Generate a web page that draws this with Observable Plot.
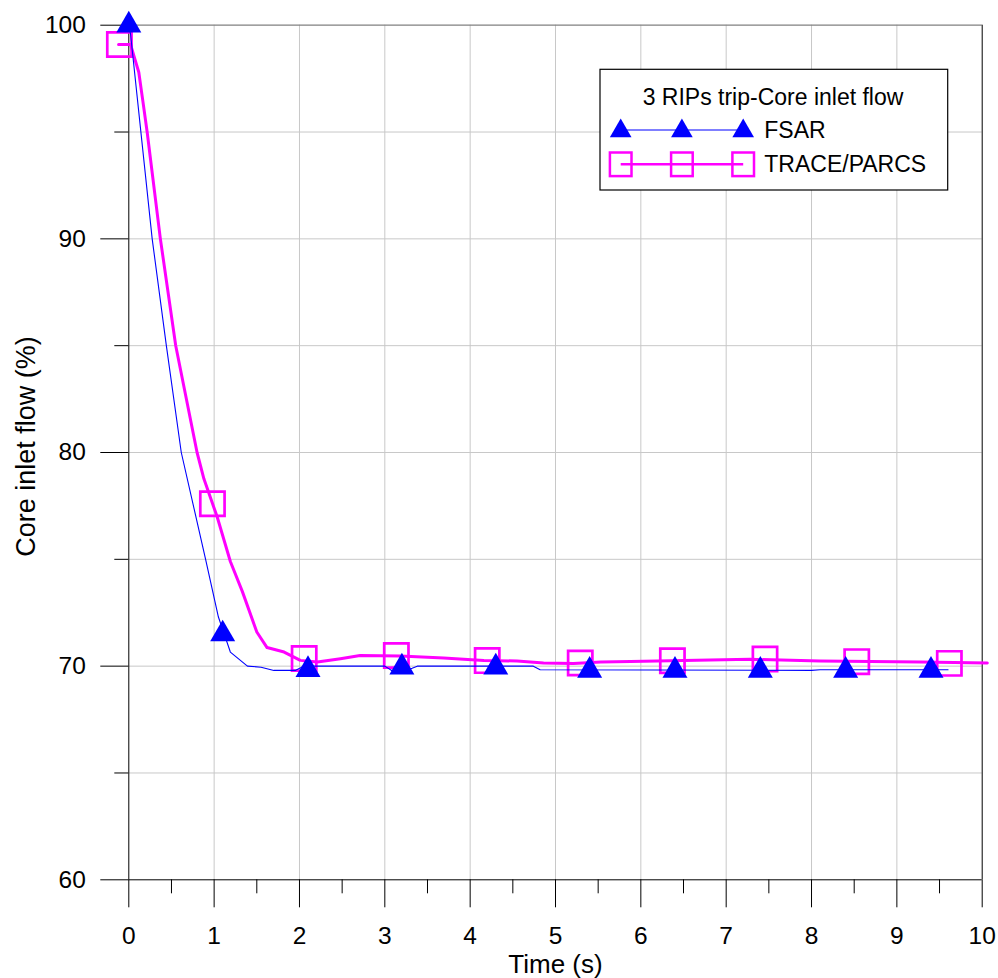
<!DOCTYPE html>
<html><head><meta charset="utf-8">
<script src="https://cdn.jsdelivr.net/npm/d3@7"></script>
<script src="https://cdn.jsdelivr.net/npm/@observablehq/plot@0.6"></script>
<style>
html,body{margin:0;padding:0;background:#fff;overflow:hidden}
#chart svg{display:block}
</style>
</head><body><div id="chart"></div>
<script>
// ---- data ----
const fsarT = [0, 0.02, 0.274, 0.44, 0.615, 0.90, 1.05, 1.19, 1.39, 1.55, 1.70, 1.95, 2.05, 3.0, 3.08, 3.25, 3.32, 3.38, 4.74, 4.82, 8.0, 8.1, 9.6];
const fsarV = [100, 99.6, 90, 85, 80, 75, 72.3, 70.66, 70.0, 69.95, 69.8, 69.8, 70.0, 70.0, 69.8, 69.8, 69.9, 70.0, 70.0, 69.83, 69.8, 69.83, 69.83];
const traceT = [-0.12, 0.02, 0.117, 0.164, 0.215, 0.37, 0.55, 0.80, 0.88, 1.036, 1.19, 1.33, 1.50, 1.62, 1.82, 2.01, 2.21, 2.48, 2.71, 3.18, 3.69, 4.16, 4.55, 4.86, 5.21, 5.53, 5.88, 7.28, 8.1, 9.28, 10.06];
const traceV = [99.1, 99.1, 97.8, 96.47, 95, 90, 85, 80, 78.77, 76.98, 74.9, 73.5, 71.6, 70.87, 70.66, 70.27, 70.19, 70.35, 70.5, 70.47, 70.38, 70.27, 70.24, 70.15, 70.12, 70.19, 70.22, 70.32, 70.24, 70.19, 70.15];
const fsarMarkT = [0, 1.1, 2.1, 3.2, 4.3, 5.4, 6.4, 7.4, 8.4, 9.4];
const fsarMarkV = [100, 71.5, 69.83, 69.95, 69.95, 69.8, 69.8, 69.8, 69.8, 69.8];
const traceMarkT = [-0.11, 0.98, 2.055, 3.135, 4.2, 5.29, 6.37, 7.455, 8.53, 9.615];
const traceMarkV = [99.1, 77.6, 70.36, 70.5, 70.26, 70.15, 70.25, 70.33, 70.21, 70.13];
const xMajor = [0,1,2,3,4,5,6,7,8,9,10];
const xMinor = [0.5,1.5,2.5,3.5,4.5,5.5,6.5,7.5,8.5,9.5];
const yMajor = [60,70,80,90,100];
const yMinor = [65,75,85,95];
const xGrid = [1,2,3,4,5,6,7,8,9];
const yGrid = [65,70,75,80,85,90,95];
const seriesNames = ["FSAR", "TRACE/PARCS"];
const legendTitle = "3 RIPs trip-Core inlet flow";
const xTitle = "Time (s)";
const yTitle = "Core inlet flow (%)";

const fsar = fsarT.map((t,i)=>({t, v:fsarV[i]}));
const trace = traceT.map((t,i)=>({t, v:traceV[i]}));
const fsarMarks = fsarMarkT.map((t,i)=>({t, v:fsarMarkV[i]}));
const traceMarks = traceMarkT.map((t,i)=>({t, v:traceMarkV[i]}));

const FONT = "'Liberation Sans', Arial, sans-serif";
const BLUE = "#0000ff", MAG = "#ff00ff";

const svg = Plot.plot({
  width: 998, height: 978,
  marginLeft: 128.3, marginRight: 16.3, marginTop: 24.7, marginBottom: 98.7,
  style: {fontFamily: FONT, background: "#fff", color: "#000", overflow: "visible"},
  x: {domain: [0, 10]},
  y: {domain: [60, 100]},
  marks: [
    Plot.gridX(xGrid, {stroke: "#c8c8c8", strokeOpacity: 1}),
    Plot.gridY(yGrid, {stroke: "#c8c8c8", strokeOpacity: 1}),
    Plot.ruleY([100], {stroke: "#808080", strokeWidth: 1.2}),
    Plot.ruleX([0], {stroke: "#000"}),
    Plot.ruleX([10], {stroke: "#000"}),
    Plot.ruleY([60], {stroke: "#000"}),
    Plot.axisY(yMajor, {tickSize: 28, tickPadding: 15, fontSize: 24.5, label: null, stroke: "#000"}),
    Plot.axisY(yMinor, {tickSize: 14, text: null, label: null, stroke: "#000"}),
    Plot.axisX(xMajor, {tickSize: 28, tickPadding: 19, fontSize: 24.5, label: null, stroke: "#000"}),
    Plot.axisX(xMinor, {tickSize: 14, text: null, label: null, stroke: "#000"}),
    Plot.text([xTitle], {frameAnchor: "bottom", dy: 84.9, fontSize: 26, textAnchor: "middle", lineAnchor: "middle", fill: "#000"}),
    Plot.text([yTitle], {frameAnchor: "left", dx: -102, dy: -6, rotate: -90, fontSize: 27, textAnchor: "middle", lineAnchor: "middle", fill: "#000"}),
    Plot.line(trace, {x: "t", y: "v", stroke: MAG, strokeWidth: 3}),
    Plot.dot(traceMarks, {x: "t", y: "v", symbol: "square", r: 13.7, stroke: MAG, strokeWidth: 2.7, fill: "none"}),
    Plot.line(fsar, {x: "t", y: "v", stroke: BLUE, strokeWidth: 1.1}),
    Plot.dot(fsarMarks, {x: "t", y: "v", symbol: "triangle", r: 9.28, fill: BLUE, stroke: "none"})
  ]
});

// ---- legend ----
const g = d3.select(svg).append("g").attr("font-family", FONT);
g.append("rect").attr("x", 600).attr("y", 69.3).attr("width", 347.7).attr("height", 120.7)
  .attr("fill", "#fff").attr("stroke", "#000").attr("stroke-width", 1.2);
g.append("text").attr("x", 773).attr("y", 105).attr("text-anchor", "middle")
  .attr("font-size", 23).attr("fill", "#000").text(legendTitle);
const lx = [620.7, 681.9, 743.2];
// FSAR row
g.append("line").attr("x1", lx[0]).attr("x2", lx[2]).attr("y1", 130).attr("y2", 130)
  .attr("stroke", BLUE).attr("stroke-width", 1.1);
const triPath = d3.symbol(d3.symbolTriangle, 203)();
lx.forEach(x => g.append("path").attr("d", triPath).attr("transform", `translate(${x},131)`).attr("fill", BLUE));
g.append("text").attr("x", 764.3).attr("y", 138.3).attr("text-anchor", "start").attr("font-size", 23).attr("fill", "#000").text(seriesNames[0]);
// TRACE row
g.append("line").attr("x1", lx[0]).attr("x2", lx[2]).attr("y1", 164.3).attr("y2", 164.3)
  .attr("stroke", MAG).attr("stroke-width", 2.5);
lx.forEach(x => g.append("rect").attr("x", x - 10.8).attr("y", 164.3 - 11.8).attr("width", 21.6).attr("height", 23.6)
  .attr("fill", "none").attr("stroke", MAG).attr("stroke-width", 2.5));
g.append("text").attr("x", 764.3).attr("y", 171.7).attr("text-anchor", "start").attr("font-size", 23).attr("fill", "#000").text(seriesNames[1]);

document.getElementById("chart").appendChild(svg);
</script>
</body></html>
